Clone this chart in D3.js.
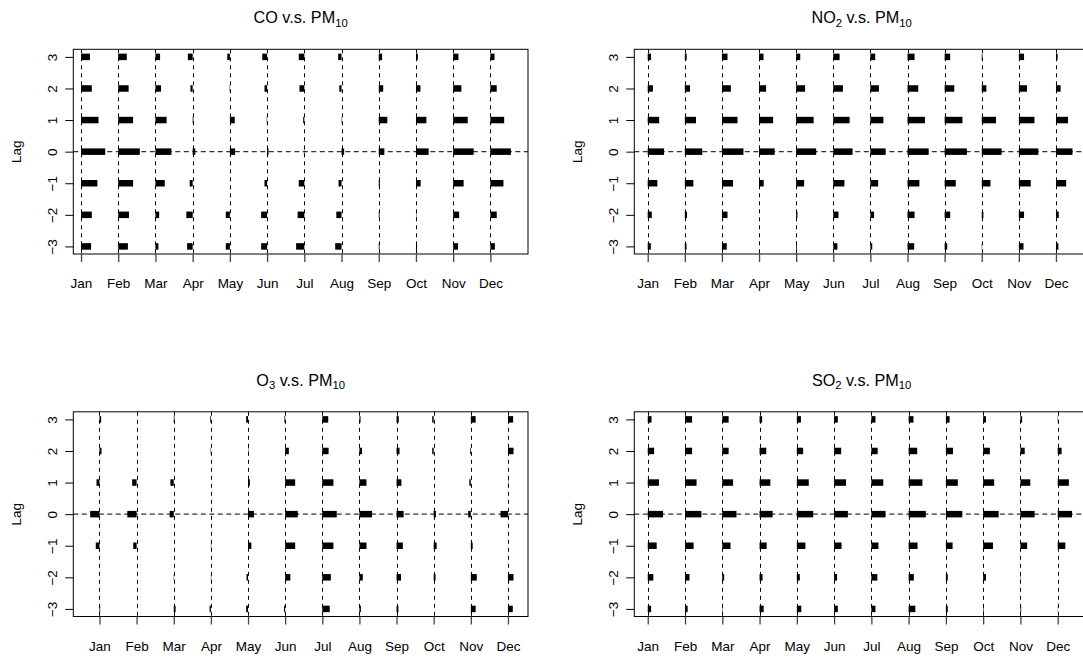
<!DOCTYPE html>
<html>
<head>
<meta charset="utf-8">
<script src="https://cdn.jsdelivr.net/npm/d3@7"></script>
<style>
  html, body { margin: 0; padding: 0; background: #fff; }
  svg { display: block; font-family: "Liberation Sans", Arial, Helvetica, sans-serif; }
</style>
</head>
<body>
<svg id="chart" width="1083" height="657"></svg>
<script>
// Monthly cross-correlations between each pollutant and PM10 at lags -3..3
const months = ["Jan", "Feb", "Mar", "Apr", "May", "Jun", "Jul", "Aug", "Sep", "Oct", "Nov", "Dec"];
const lags = [3, 2, 1, 0, -1, -2, -3];

// one row per month, values in the order of `lags`
const coPm10 = [
  [0.24, 0.29, 0.47, 0.65, 0.44, 0.29, 0.27],
  [0.23, 0.28, 0.40, 0.58, 0.40, 0.29, 0.26],
  [0.125, 0.15, 0.30, 0.43, 0.25, 0.10, 0.08],
  [-0.13, -0.06, 0.02, 0.07, -0.08, -0.17, -0.15],
  [-0.07, -0.01, 0.13, 0.14, 0.0, -0.11, -0.11],
  [-0.13, -0.07, -0.01, 0.04, -0.07, -0.16, -0.16],
  [-0.15, -0.13, -0.03, -0.01, -0.15, -0.18, -0.22],
  [-0.09, -0.06, 0.01, 0.07, -0.08, -0.14, -0.17],
  [0.09, 0.12, 0.23, 0.15, 0.03, 0.02, 0.02],
  [0.05, 0.12, 0.28, 0.34, 0.125, 0.01, 0.03],
  [0.14, 0.22, 0.39, 0.55, 0.28, 0.16, 0.13],
  [0.11, 0.17, 0.37, 0.55, 0.35, 0.17, 0.12]
];

const no2Pm10 = [
  [0.09, 0.14, 0.31, 0.44, 0.26, 0.11, 0.085],
  [0.05, 0.14, 0.30, 0.47, 0.23, 0.06, 0.045],
  [0.15, 0.24, 0.42, 0.58, 0.30, 0.15, 0.13],
  [0.12, 0.19, 0.38, 0.42, 0.125, 0.0, 0.0],
  [0.11, 0.24, 0.47, 0.54, 0.215, 0.035, 0.02],
  [0.17, 0.26, 0.44, 0.52, 0.30, 0.14, 0.11],
  [0.13, 0.23, 0.35, 0.41, 0.21, 0.10, 0.05],
  [0.19, 0.29, 0.47, 0.57, 0.32, 0.19, 0.18],
  [0.15, 0.26, 0.48, 0.60, 0.30, 0.15, 0.07],
  [0.02, 0.125, 0.385, 0.535, 0.235, 0.045, 0.01],
  [0.14, 0.22, 0.42, 0.525, 0.32, 0.14, 0.125],
  [0.045, 0.125, 0.325, 0.445, 0.275, 0.075, 0.065]
];

const o3Pm10 = [
  [0.045, 0.055, -0.08, -0.25, -0.10, 0.0, 0.02],
  [0.0, 0.0, -0.12, -0.25, -0.09, 0.0, 0.0],
  [0.02, 0.0, -0.09, -0.11, 0.0, 0.01, 0.05],
  [-0.02, -0.01, 0.0, 0.0, 0.01, 0.01, -0.035],
  [-0.05, 0.01, 0.05, 0.16, 0.09, -0.04, -0.05],
  [-0.02, 0.10, 0.27, 0.34, 0.27, 0.14, -0.03],
  [0.16, 0.17, 0.30, 0.39, 0.30, 0.23, 0.20],
  [0.03, 0.07, 0.19, 0.34, 0.19, 0.09, 0.04],
  [0.06, 0.08, 0.13, 0.19, 0.17, 0.12, 0.05],
  [-0.04, -0.04, 0.0, 0.06, 0.08, 0.05, 0.0],
  [0.13, -0.02, -0.04, -0.07, 0.05, 0.16, 0.13],
  [0.14, 0.15, 0.01, -0.20, 0.0, 0.15, 0.13]
];

const so2Pm10 = [
  [0.10, 0.17, 0.30, 0.41, 0.24, 0.15, 0.09],
  [0.19, 0.19, 0.31, 0.44, 0.23, 0.12, 0.07],
  [0.17, 0.17, 0.29, 0.38, 0.22, 0.05, 0.01],
  [0.07, 0.18, 0.29, 0.35, 0.19, 0.08, 0.11],
  [0.11, 0.17, 0.32, 0.44, 0.23, 0.08, 0.12],
  [0.10, 0.19, 0.32, 0.37, 0.20, 0.08, 0.10],
  [0.11, 0.17, 0.32, 0.38, 0.19, 0.16, 0.11],
  [0.13, 0.23, 0.37, 0.46, 0.24, 0.14, 0.18],
  [0.10, 0.19, 0.32, 0.44, 0.18, 0.05, 0.05],
  [0.075, 0.18, 0.295, 0.415, 0.265, 0.075, 0.015],
  [0.045, 0.115, 0.265, 0.38, 0.18, 0.01, 0.02],
  [0.01, 0.105, 0.30, 0.385, 0.205, 0.0, 0.005]
];

// panel definitions: title pieces, data and x-range (in month units)
const panels = [
  { gas: "CO", sub: "", values: coPm10, xDomain: [0.793, 13.01], col: 0, row: 0 },
  { gas: "NO", sub: "2", values: no2Pm10, xDomain: [0.639, 12.89], col: 1, row: 0 },
  { gas: "O", sub: "3", values: o3Pm10, xDomain: [0.295, 12.54], col: 0, row: 1 },
  { gas: "SO", sub: "2", values: so2Pm10, xDomain: [0.639, 12.84], col: 1, row: 1 }
];

const fig = { w: 561, h: 362.5 };
const box = { left: 73.3, right: 528, top: 49.3, bottom: 254 };
const fontSize = 13.5;
const barHeight = 6.5;

const svg = d3.select("#chart");

panels.forEach(p => {
  const g = svg.append("g")
    .attr("transform", `translate(${p.col * fig.w},${p.row * fig.h})`);

  const x = d3.scaleLinear().domain(p.xDomain).range([box.left, box.right]);
  const y = d3.scaleLinear().domain([-3.24, 3.24]).range([box.bottom, box.top]);

  const clipId = `clip-${p.gas}`;
  g.append("clipPath").attr("id", clipId)
    .append("rect")
    .attr("x", box.left).attr("y", box.top)
    .attr("width", box.right - box.left).attr("height", box.bottom - box.top);

  const plot = g.append("g").attr("clip-path", `url(#${clipId})`);

  // dashed reference lines: one per month and one at lag 0
  plot.selectAll("line.vref")
    .data(months)
    .join("line")
    .attr("class", "vref")
    .attr("x1", (d, i) => Math.round(x(i + 1)) + 0.5)
    .attr("x2", (d, i) => Math.round(x(i + 1)) + 0.5)
    .attr("y1", box.top)
    .attr("y2", box.bottom)
    .attr("stroke", "#000")
    .attr("stroke-width", 1)
    .attr("stroke-dasharray", "4,4");

  plot.append("line")
    .attr("x1", box.left).attr("x2", box.right)
    .attr("y1", y(0)).attr("y2", y(0))
    .attr("stroke", "#333")
    .attr("stroke-width", 1.2)
    .attr("stroke-dasharray", "5,3.5");

  // horizontal bars starting at each month's line
  const cells = [];
  p.values.forEach((row, mi) => {
    row.forEach((v, li) => cells.push({ month: mi + 1, lag: lags[li], value: v }));
  });

  plot.selectAll("rect.bar")
    .data(cells)
    .join("rect")
    .attr("class", "bar")
    .attr("x", d => Math.min(x(d.month), x(d.month + d.value)))
    .attr("width", d => Math.abs(x(d.month + d.value) - x(d.month)))
    .attr("y", d => y(d.lag) - barHeight / 2)
    .attr("height", barHeight)
    .attr("fill", "#000");

  // frame
  g.append("rect")
    .attr("x", box.left).attr("y", box.top)
    .attr("width", box.right - box.left).attr("height", box.bottom - box.top)
    .attr("fill", "none")
    .attr("stroke", "#000")
    .attr("stroke-width", 1);

  // y axis (lags) with rotated labels
  const yAxis = g.append("g")
    .attr("transform", `translate(${box.left},0)`)
    .call(d3.axisLeft(y).tickValues(lags).tickSize(8).tickFormat(d3.format("d")));
  yAxis.select(".domain").remove();
  yAxis.selectAll(".tick line").attr("stroke", "#000");
  yAxis.selectAll(".tick text")
    .attr("x", null)
    .attr("dy", null)
    .attr("transform", "translate(-21.6,0) rotate(-90)")
    .attr("y", 0)
    .attr("dy", "0.36em")
    .attr("text-anchor", "middle")
    .attr("font-size", fontSize)
    .attr("font-family", "Liberation Sans, Arial, sans-serif")
    .attr("fill", "#000");

  // x axis (months)
  const xAxis = g.append("g")
    .attr("transform", `translate(0,${box.bottom})`)
    .call(d3.axisBottom(x).tickValues(d3.range(1, 13)).tickSize(8)
      .tickFormat(d => months[d - 1]));
  xAxis.select(".domain").remove();
  xAxis.selectAll(".tick line").attr("stroke", "#444").attr("stroke-width", 1.3);
  xAxis.selectAll(".tick text")
    .attr("y", 29.3)
    .attr("dy", "0.36em")
    .attr("font-size", fontSize)
    .attr("font-family", "Liberation Sans, Arial, sans-serif")
    .attr("fill", "#000");

  // axis title
  g.append("text")
    .attr("transform", `translate(16.5,${(box.top + box.bottom) / 2}) rotate(-90)`)
    .attr("text-anchor", "middle")
    .attr("dy", "0.36em")
    .attr("font-size", fontSize)
    .text("Lag");

  // panel title with subscripts
  const title = g.append("text")
    .attr("x", (box.left + box.right) / 2)
    .attr("y", 23)
    .attr("text-anchor", "middle")
    .attr("font-size", 16.2);
  title.append("tspan").text(p.gas);
  if (p.sub) {
    title.append("tspan").attr("font-size", 11.3).attr("dy", 3.5).text(p.sub);
    title.append("tspan").attr("dy", -3.5).text(" v.s. PM");
  } else {
    title.append("tspan").text(" v.s. PM");
  }
  title.append("tspan").attr("font-size", 11.3).attr("dy", 3.5).text("10");
});
</script>
</body>
</html>
